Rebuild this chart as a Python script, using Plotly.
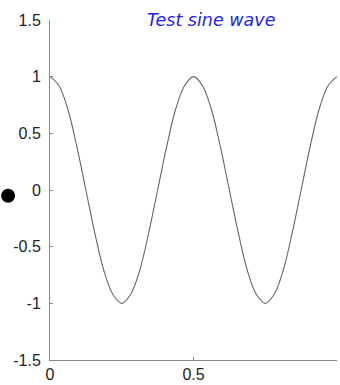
import plotly.graph_objects as go

# curve samples (x in steps of 1/32)
x_vals = [i / 32 for i in range(33)]
y_vals = [1.0, 0.92, 0.71, 0.38, 0.0, -0.38, -0.71, -0.92, -1.0, -0.92, -0.71, -0.38, 0.0,
          0.38, 0.71, 0.92, 1.0, 0.92, 0.71, 0.38, 0.0, -0.38, -0.71, -0.92, -1.0, -0.92,
          -0.71, -0.38, 0.0, 0.38, 0.71, 0.92, 1.0]
# position of the black dot (paper fraction of plot area)
dot_x = [-0.146]
dot_y = [0.483]
x_ticks = [0, 0.5, 1]
x_tick_labels = ["0", "0.5", "1"]
y_ticks = [-1.5, -1, -0.5, 0, 0.5, 1, 1.5]
y_tick_labels = ["-1.5", "-1", "-0.5", "0", "0.5", "1", "1.5"]
title_text = "Test sine wave"

fig = go.Figure()
fig.add_trace(go.Scatter(x=x_vals, y=y_vals, mode="lines",
                         line=dict(color="#666666", width=1.1, shape="spline"),
                         hoverinfo="skip"))

fig.add_shape(type="circle", xref="paper", yref="paper",
              xsizemode="pixel", ysizemode="pixel",
              xanchor=dot_x[0], yanchor=dot_y[0], x0=-7, x1=7, y0=-7, y1=7,
              fillcolor="black", line=dict(color="black", width=0))

axis_common = dict(showgrid=False, zeroline=False, showline=True, linecolor="#888888",
                   linewidth=1, ticks="inside", ticklen=3, tickcolor="#888888",
                   automargin=False,
                   tickfont=dict(family="Liberation Sans, Arial", size=16, color="#222222"))
fig.update_xaxes(range=[0, 1], tickvals=x_ticks, ticktext=x_tick_labels, **axis_common)
fig.update_yaxes(range=[-1.5, 1.5], tickvals=y_ticks, ticktext=y_tick_labels,
                 ticklabelstandoff=5, **axis_common)

fig.add_annotation(text=title_text, xref="x", yref="paper", x=0.56, y=1.0,
                   xanchor="center", yanchor="middle", showarrow=False,
                   font=dict(family="DejaVu Sans", size=17.5, color="#2222ee", style="italic"))

fig.update_layout(width=340, height=385, margin=dict(l=50, r=3, t=20, b=25),
                  plot_bgcolor="white", paper_bgcolor="white", showlegend=False)
fig.write_html("out.html", config={"displayModeBar": False},
               post_script="document.body.style.margin='0';")
